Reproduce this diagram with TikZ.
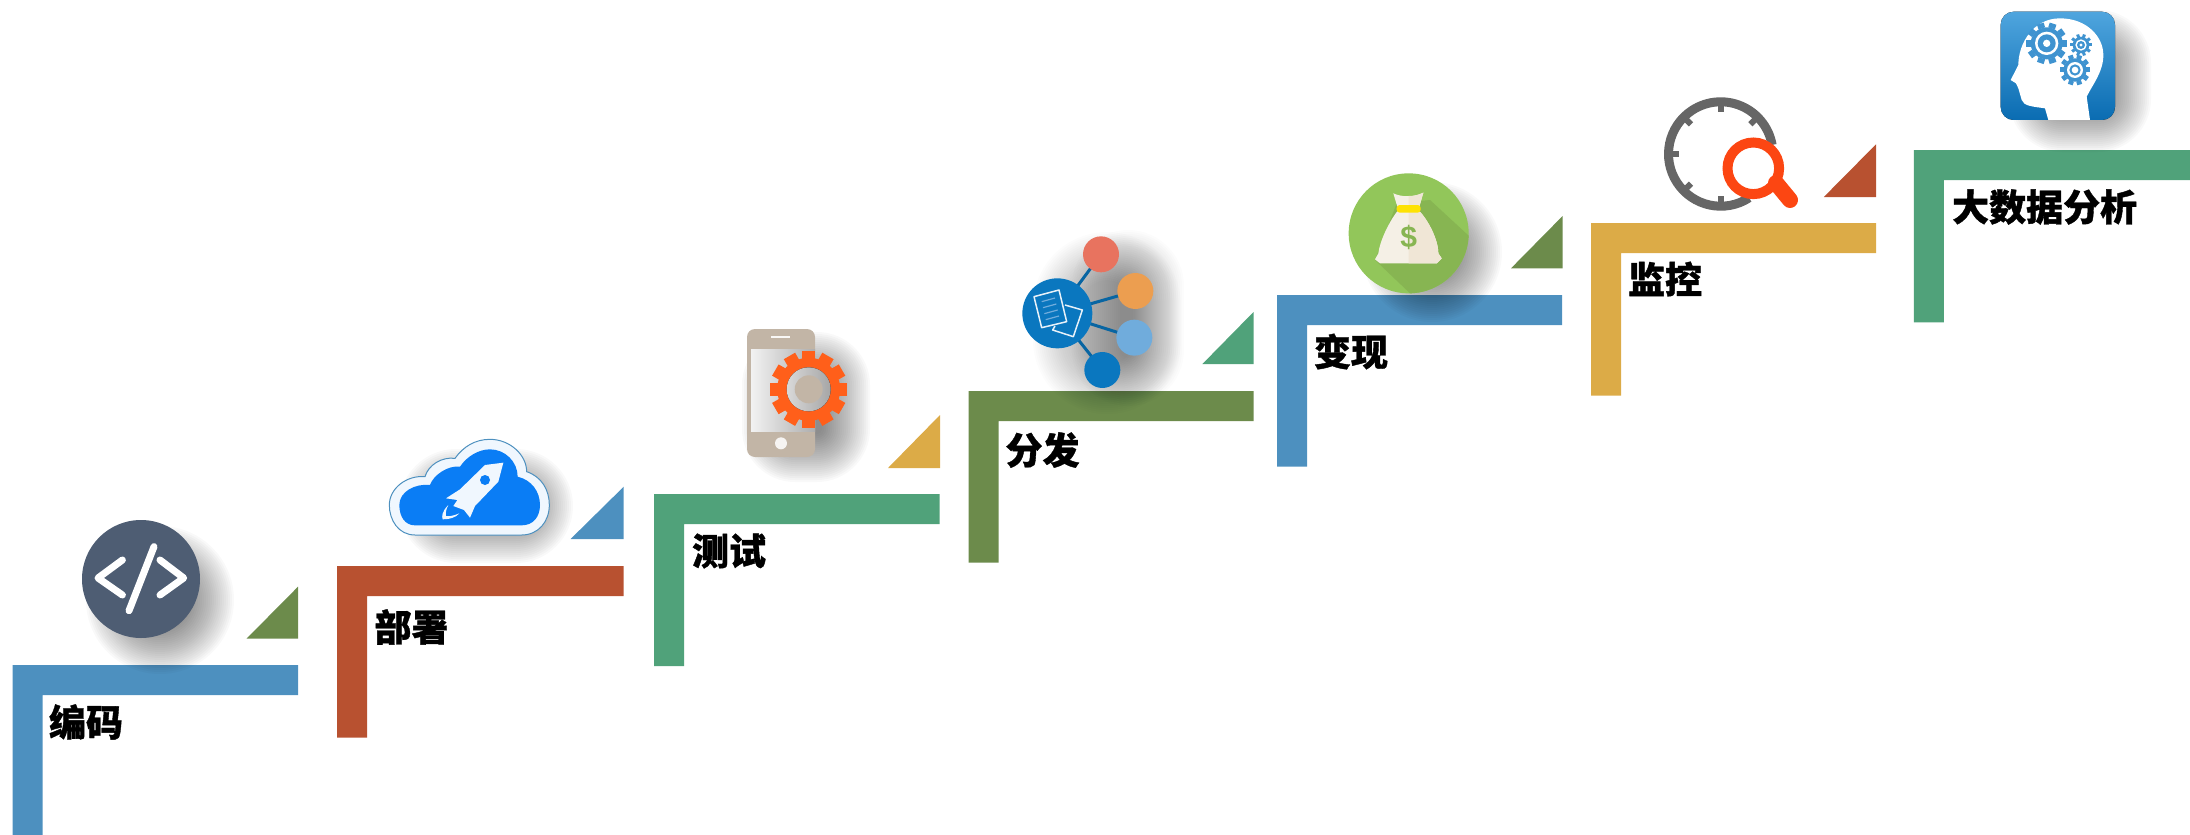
\documentclass[tikz,border=0pt]{standalone}
\usepackage{fontspec}
\setmainfont{Liberation Sans}
\newfontfamily\cjk[BoldFeatures={FakeBold=1}]{Noto Sans CJK SC}
\definecolor{stepblue}{HTML}{4D90BF}
\definecolor{steprust}{HTML}{B85130}
\definecolor{stepgreen}{HTML}{50A27A}
\definecolor{stepolive}{HTML}{6C8B4B}
\definecolor{stepgold}{HTML}{DCAB47}
\definecolor{codeslate}{HTML}{4E5D73}
\definecolor{cloudblue}{HTML}{0A7DF5}
\definecolor{phonetan}{HTML}{C2B5A6}
\definecolor{gearorange}{HTML}{FF5F1A}
\definecolor{netblue}{HTML}{0A77BF}
\definecolor{netred}{HTML}{E8735F}
\definecolor{netorange}{HTML}{EC9E50}
\definecolor{netsky}{HTML}{70ACDC}
\definecolor{bagbase}{HTML}{92C65A}
\definecolor{bagshade}{HTML}{87B552}
\definecolor{bagcream}{HTML}{F5F0E6}
\definecolor{bagdark}{HTML}{F0E6D6}
\definecolor{clockgray}{HTML}{666666}
\definecolor{lensred}{HTML}{FC4612}
\definecolor{headblue}{HTML}{0A6CB2}
\definecolor{headsky}{HTML}{4FA5DE}
\definecolor{headgear}{HTML}{3F93D0}
\newcommand{\stair}[6]{\fill[#6] (#1,#2) -- (#3,#2) -- (#3,#2+30) -- (#1+#5,#2+30) -- (#1+#5,#4) -- (#1,#4) -- cycle;}
\newcommand{\softshadow}[6][.022]{\foreach \k in {0,...,24} {
    \fill[black,opacity=#1,rounded corners={#6+2*\k-20}] (#2-#4-2*\k+20,#3-#5-2*\k+20) rectangle (#2+#4+2*\k-20,#3+#5+2*\k-20);}}
\newcommand{\gearat}[7]{\fill[#7] (#1,#2) circle (#3);
  \foreach \t in {1,...,#6} {\draw[#7,line width=#5] (#1,#2) ++(\t*360/#6:#3-1) -- ++(\t*360/#6:#4-#3+1);}}
\tikzset{steplabel/.style={font=\cjk\bfseries\fontsize{37}{37}\selectfont,text=black,inner sep=0pt}}
\begin{document}
\begin{tikzpicture}[x=1pt,y=-1pt]
  \useasboundingbox (0,0) rectangle (2190,835);
  \stair{12.7}{665}{298}{835}{30}{stepblue}
  \stair{337}{566}{623.7}{737.7}{30}{steprust}
  \stair{654}{494}{939.6}{666}{30}{stepgreen}
  \stair{968.6}{391}{1253.5}{562.7}{30}{stepolive}
  \stair{1277}{295}{1562}{466.7}{30}{stepblue}
  \stair{1591}{223}{1876}{395.7}{30}{stepgold}
  \stair{1913.8}{150}{2190}{322.3}{30}{stepgreen}
  \fill[stepolive] (298,586.7) -- (298,638.7) -- (246.5,638.7) -- cycle;
  \fill[stepblue] (623.7,486.7) -- (623.7,539) -- (570.6,539) -- cycle;
  \fill[stepgold] (940,415) -- (940,468) -- (888,468) -- cycle;
  \fill[stepgreen] (1253.5,312) -- (1253.5,364) -- (1202.4,364) -- cycle;
  \fill[stepolive] (1562.6,216) -- (1562.6,268.3) -- (1511,268.3) -- cycle;
  \fill[steprust] (1876,144.3) -- (1876,197) -- (1823.8,197) -- cycle;
  \node[steplabel] (labelcode) at (86,722) {编码};
  \node[steplabel] (labeldeploy) at (411.5,627) {部署};
  \node[steplabel] (labeltest) at (729,551) {测试};
  \node[steplabel] (labelship) at (1042.5,450) {分发};
  \node[steplabel] (labelcash) at (1351,351.5) {变现};
  \node[steplabel] (labelwatch) at (1665,279) {监控};
  \node[steplabel] (labeldata) at (2044.6,207) {大数据分析};
  \softshadow{160}{600}{46}{46}{46}
  \softshadow{486}{506}{59}{29}{29}
  \softshadow{806}{407}{36}{47}{25}
  \softshadow[.011]{1107}{323}{46}{63}{46}
  \softshadow[.012]{1128}{318}{28}{60}{28}
  \softshadow{1432}{252}{42}{42}{42}
  \softshadow{2080}{81}{43}{43}{25}
  \fill[codeslate] (141,579) circle (59);
  \draw[white,line width=7,line cap=round,line join=round] (122.4,560) -- (98,578) -- (122.4,595);
  \draw[white,line width=7,line cap=round,line join=round] (160,560) -- (183.7,578) -- (160,595);
  \draw[white,line width=7,line cap=round] (154,546.7) -- (129,610.7);
  \begin{scope}[shift={(370,420)},scale=1/3]
    \fill[white!94!cloudblue,draw=stepblue,line width=1] (135,345) .. controls (85,345) and (58,300) .. (58,255)
      .. controls (58,205) and (110,165) .. (165,170) .. controls (175,135) and (215,110) .. (255,115)
      .. controls (280,80) and (315,58) .. (360,58) .. controls (420,58) and (470,105) .. (470,155)
      .. controls (515,170) and (538,210) .. (538,255) .. controls (538,305) and (505,345) .. (455,345) -- cycle;
    \fill[cloudblue] (135,316) .. controls (105,316) and (88,290) .. (88,255)
      .. controls (88,215) and (135,190) .. (180,195) .. controls (190,165) and (235,135) .. (270,140)
      .. controls (290,110) and (325,88) .. (360,88) .. controls (405,88) and (443,125) .. (443,170)
      .. controls (485,180) and (510,215) .. (510,255) .. controls (510,290) and (490,316) .. (455,316) -- cycle;
    \fill[white!94!cloudblue] (400,128) -- (345,135) -- (270,208) -- (228,235) -- (262,240) -- (250,258) -- (282,270)
      -- (300,293) -- (315,258) -- (385,185) -- cycle;
    \fill[cloudblue] (345,180) circle (15);
    \fill[white!94!cloudblue] (235,255) .. controls (215,275) and (215,290) .. (218,298)
      .. controls (240,298) and (258,292) .. (268,280) .. controls (250,288) and (235,290) .. (228,288)
      .. controls (226,280) and (228,268) .. (235,255) -- cycle;
  \end{scope}
  \fill[phonetan,rounded corners=8] (747,329) rectangle (815,457);
  \fill[left color=white!95!black,right color=white!68!black] (751,349) rectangle (815,431);
  \draw[white!90!phonetan,line width=2] (771,337) -- (790,337);
  \fill[white!85!phonetan] (781,443.3) circle (6);
  \gearat{808.7}{389.3}{31.5}{38.5}{13}{12}{gearorange}
  \fill[left color=white!85!black,right color=white!65!black] (808.7,389.3) circle (22);
  \fill[phonetan] (808.7,389.3) circle (14);
  \begin{scope}[shift={(1000,230)},scale=1/3]
    \draw[netblue!85!black,line width=3] (172,250) -- (303,73);
    \draw[netblue!85!black,line width=3] (172,250) -- (406,183);
    \draw[netblue!85!black,line width=3] (172,250) -- (403,323);
    \draw[netblue!85!black,line width=3] (172,250) -- (307,420);
    \fill[netred] (303,73) circle (54);
    \fill[netorange] (406,183) circle (54);
    \fill[netsky] (403,323) circle (54);
    \fill[netblue] (307,420) circle (54);
    \fill[netblue] (172,250) circle (105);
    \draw[white!90!netblue,line width=1.5,line join=round] (102,200) -- (177,180) -- (200,275) -- (125,293) -- cycle;
    \draw[white!90!netblue,line width=1.5,line join=round] (195,225) -- (247,240) -- (220,320) -- (158,300) -- (165,288);
    \foreach \r in {0,1,2,3} {\draw[netsky,line width=1.2] (125+4*\r,215+18*\r) -- (165+4*\r,204+18*\r);}
  \end{scope}
  \begin{scope}[shift={(1330,160)},scale=1/3]
    \fill[bagbase] (236,220) circle (180);
    \begin{scope}
      \clip (236,220) circle (180);
      \fill[bagshade] (200,130) -- (300,120) -- (430,240) -- (430,400) -- (240,400) -- (135,300) -- cycle;
    \end{scope}
    \fill[bagcream] (190,100) .. controls (215,112) and (255,112) .. (280,98) -- (265,150)
      .. controls (295,180) and (325,240) .. (325,280) -- (335,295) -- (320,310) -- (150,310) -- (135,298) -- (145,280)
      .. controls (150,240) and (180,180) .. (205,150) -- cycle;
    \fill[bagdark] (236,108) .. controls (255,108) and (265,104) .. (280,98) -- (265,150)
      .. controls (295,180) and (325,240) .. (325,280) -- (335,295) -- (320,310) -- (236,310) -- cycle;
    \fill[yellow!85!orange,rounded corners=3] (200,135) rectangle (272,158);
    \node[font=\bfseries\fontsize{30}{30}\selectfont,text=bagshade,inner sep=0pt] (bagsign) at (236,232) {\$};
  \end{scope}
  \draw[clockgray,line width=9] (1720.7,154) ++(57:52.2) arc (57:350:52.2);
  \foreach \a in {90,135,180,225,270,315} {\draw[clockgray,line width=6] (1720.7,154) ++(\a:50) -- ++(\a:-8);}
  \draw[lensred,line width=10] (1753.3,168.3) circle (25.8);
  \draw[lensred,line width=16,line cap=round] (1776,183) -- (1790,200);
  \begin{scope}[shift={(1980,0)},scale=1/3]
    \fill[top color=headsky,bottom color=headblue,rounded corners=13] (62,35) rectangle (405,360);
    \fill[white] (205,360) -- (195,325) .. controls (160,320) and (130,318) .. (125,300) -- (115,265) -- (108,250) -- (92,240)
      -- (115,195) .. controls (115,130) and (160,55) .. (240,55) .. controls (320,55) and (370,110) .. (370,165)
      .. controls (370,215) and (340,250) .. (320,290) -- (330,360) -- cycle;
    \gearat{200}{130}{48}{62}{7}{10}{headgear}
    \fill[white] (200,130) circle (35);
    \fill[headgear] (200,130) circle (27);
    \fill[white] (200,130) circle (11);
    \gearat{303}{135}{25}{33}{3}{10}{headgear}
    \fill[white] (303,135) circle (17);
    \fill[headgear] (303,135) circle (12);
    \fill[white] (303,135) circle (5);
    \gearat{285}{210}{35}{46}{5}{10}{headgear}
    \fill[white] (285,210) circle (24);
    \fill[headgear] (285,210) circle (17);
    \fill[white] (285,210) circle (10);
  \end{scope}
\end{tikzpicture}
\end{document}
